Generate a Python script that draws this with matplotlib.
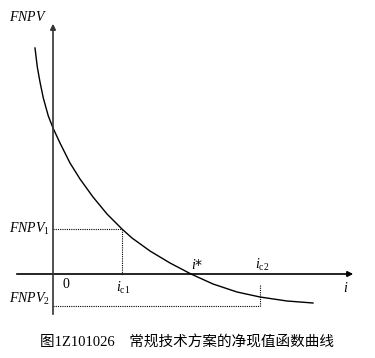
import matplotlib.pyplot as plt

plt.rcParams['mathtext.fontset'] = 'custom'
plt.rcParams['mathtext.it'] = 'Liberation Serif:italic'
plt.rcParams['mathtext.rm'] = 'Liberation Serif'

# curve (i, FNPV) in chart units
i_vals = [-18, -15.7, -13, -9.7, -4.7, 0, 7, 17, 27, 40, 54, 69, 79,
          97, 117, 138, 160, 184, 207, 234, 260]
fnpv_vals = [226, 207, 192, 176, 158, 146, 131, 111, 95, 77, 60, 45, 36,
             23, 11, 0, -10, -18, -23, -27, -29]

i_c1, fnpv_1 = 69, 45
i_star = 138
i_c2, fnpv_2 = 207, -32
ic2_top = -11

fig = plt.figure(figsize=(3.75, 3.58), dpi=100)
ax = fig.add_axes([0, 0, 1, 1])
ax.set_xlim(-53, 322)
ax.set_ylim(-84, 274)
ax.axis('off')

# axes with arrows
ax.annotate('', xy=(303, 0), xytext=(-39, 0),
            arrowprops=dict(arrowstyle='-|>', color='black', lw=1.2, mutation_scale=8))
ax.annotate('', xy=(0, 253), xytext=(0, -43),
            arrowprops=dict(arrowstyle='-|>', color='#333333', lw=1.2, mutation_scale=8))

ax.plot(i_vals, fnpv_vals, color='black', lw=1.0)

# dotted guides
dot = dict(color='black', lw=0.8, ls=(0, (1, 1)))
ax.plot([0, i_c1], [fnpv_1, fnpv_1], **dot)
ax.plot([i_c1, i_c1], [fnpv_1, 0], **dot)
ax.plot([0, i_c2], [fnpv_2, fnpv_2], **dot)
ax.plot([i_c2, i_c2], [ic2_top, fnpv_2], **dot)

fs = 10
ax.text(-25, 257, r'$FNPV$', fontsize=fs, ha='center', va='center')
ax.text(-3, fnpv_1, r'$FNPV_1$', fontsize=fs, ha='right', va='center')
ax.text(-3, -25, r'$FNPV_2$', fontsize=fs, ha='right', va='center')
ax.text(13, -11, '0', fontsize=fs, ha='center', va='center', family='Liberation Serif')
ax.text(i_c1 + 1, -14, r'$i_{\rm c1}$', fontsize=fs, ha='center', va='center')
ax.text(i_star + 6, 9, r'$i$*', fontsize=fs, ha='center', va='center')
ax.text(i_c2 + 2, 9, r'$i_{\rm c2}$', fontsize=fs, ha='center', va='center')
ax.text(293, -14, r'$i$', fontsize=fs, ha='center', va='center')

fig.text(0.5, 1 - 343 / 358, '图1Z101026　常规技术方案的净现值函数曲线',
         fontsize=10.5, ha='center', va='center',
         family=['Liberation Serif', 'Noto Sans CJK SC'])

fig.savefig('out.png', dpi=100)
